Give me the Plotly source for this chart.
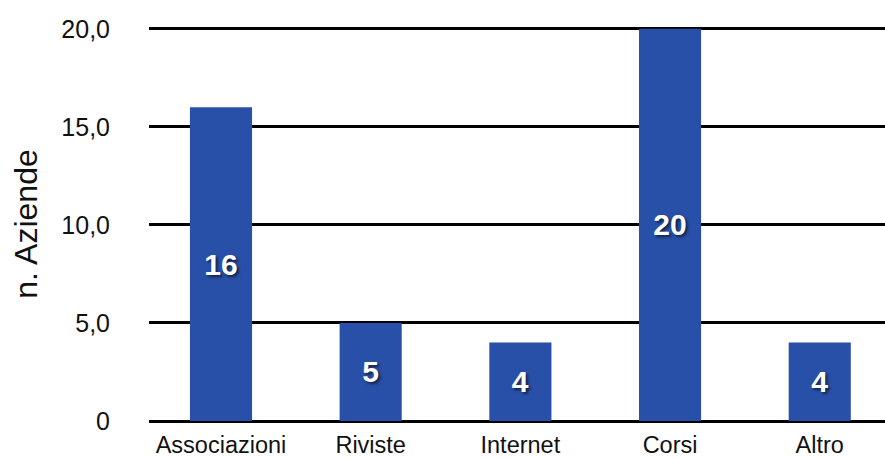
import plotly.graph_objects as go

categories = ["Associazioni", "Riviste", "Internet", "Corsi", "Altro"]
values = [16, 5, 4, 20, 4]
tick_vals = [0, 5, 10, 15, 20]
tick_text = ["0", "5,0", "10,0", "15,0", "20,0"]

fig = go.Figure(
    go.Bar(
        x=list(range(len(categories))),
        y=values,
        width=0.415,
        marker=dict(color="#2950A8", line=dict(width=0)),
        text=[str(v) for v in values],
        textposition="inside",
        insidetextanchor="middle",
        textangle=0,
        textfont=dict(family="Liberation Sans, Arial, sans-serif", size=30,
                      color="white", weight="bold",
                      shadow="2px 2px 3px rgba(0,0,0,0.6)"),
        cliponaxis=False,
    )
)

fig.update_layout(
    width=885,
    height=458,
    margin=dict(l=149, r=0, t=27, b=34),
    paper_bgcolor="white",
    plot_bgcolor="white",
    showlegend=False,
    font=dict(family="Liberation Sans, Arial, sans-serif", color="#111111"),
    xaxis=dict(
        range=[-0.481, 4.436],
        tickvals=list(range(len(categories))),
        ticktext=categories,
        tickfont=dict(size=23.5),
        showgrid=False,
        zeroline=False,
        showline=False,
        ticks="",
        ticklabelstandoff=7,
    ),
    yaxis=dict(
        range=[0, 20.09],
        tickvals=tick_vals,
        ticktext=tick_text,
        tickfont=dict(size=25),
        showgrid=True,
        gridcolor="black",
        gridwidth=3,
        zeroline=True,
        zerolinecolor="black",
        zerolinewidth=3,
        showline=False,
        ticks="",
        ticklabelstandoff=38,
        title=dict(text="n. Aziende", font=dict(size=32), standoff=14),
    ),
)

fig.write_html("out.html")
